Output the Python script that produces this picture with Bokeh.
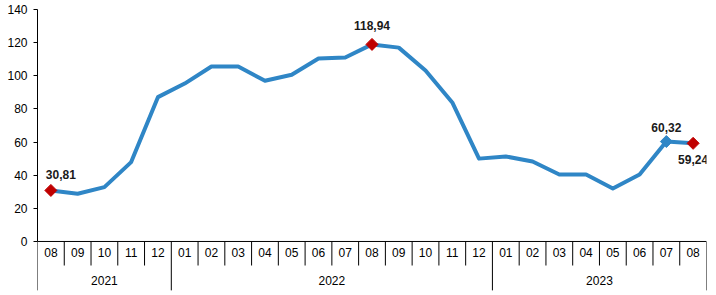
import math
from bokeh.plotting import figure
from bokeh.models import Range1d, FixedTicker, ColumnDataSource
from bokeh.core.properties import value
from bokeh.embed import file_html
from bokeh.resources import INLINE

months = ["08", "09", "10", "11", "12",
          "01", "02", "03", "04", "05", "06", "07", "08", "09", "10", "11", "12",
          "01", "02", "03", "04", "05", "06", "07", "08"]
years = ["2021", "2022", "2023"]
year_counts = [5, 12, 8]
values = [30.81, 28.8, 32.8, 47.9, 87.1,
          95.3, 105.6, 105.6, 97.0, 100.6, 110.4, 111.0, 118.94, 117.0, 103.2, 83.9, 50.0,
          51.3, 48.3, 40.4, 40.4, 32.0, 40.4, 60.32, 59.24]
red_idx = [0, 12, 24]
blue_idx = [23]
label_idx = [0, 12, 23, 24]
label_text = ["30,81", "118,94", "60,32", "59,24"]
label_dx = [10, 0, 0, 0]
label_dy = [16, 19, 14, -16]
y_ticks = [0, 20, 40, 60, 80, 100, 120, 140]

FONT = "Liberation Sans"
LINE = "#2F86C6"
RED = "#C00000"

p = figure(width=716, height=295, output_backend="svg", toolbar_location=None,
           x_axis_type=None, min_border_left=37, min_border_right=10,
           min_border_top=9, min_border_bottom=0)
p.x_range = Range1d(0, 25)
p.y_range = Range1d(-32.6, 140)
p.outline_line_color = None
p.grid.visible = False
p.background_fill_color = "white"

ax = p.yaxis[0]
ax.bounds = (0, 140)
ax.ticker = FixedTicker(ticks=y_ticks)
ax.minor_tick_line_color = None
ax.major_tick_in = 0
ax.major_tick_out = 4
ax.major_label_standoff = 6
ax.major_label_text_font = FONT
ax.major_label_text_font_size = "12px"
ax.major_label_text_color = "black"
ax.axis_line_color = "black"
ax.major_tick_line_color = "black"

n = len(months)
xs = [i + 0.5 for i in range(n)]

# table lines
p.segment(x0=[0], y0=[0], x1=[n], y1=[0], line_color="black", line_width=1)
year_bounds = [0]
for c in year_counts:
    year_bounds.append(year_bounds[-1] + c)
month_lines = [i for i in range(1, n) if i not in year_bounds]
p.segment(x0=month_lines, y0=[0] * len(month_lines), x1=month_lines,
          y1=[-14.5] * len(month_lines), line_color="black", line_width=1)
p.segment(x0=year_bounds, y0=[0] * len(year_bounds), x1=year_bounds,
          y1=[-29.5] * len(year_bounds), line_color="black", line_width=1)
p.text(x=xs, y=[-6.6] * n, text=months, text_align="center", text_baseline="middle",
       text_font=value(FONT), text_font_size="12px", text_color="black")
year_x = [(year_bounds[i] + year_bounds[i + 1]) / 2 for i in range(len(years))]
p.text(x=year_x, y=[-23.5] * len(years), text=years, text_align="center",
       text_baseline="middle", text_font=value(FONT), text_font_size="12px",
       text_color="black")

# series
p.line(xs, values, line_color=LINE, line_width=4, line_join="round")
p.scatter([xs[i] for i in blue_idx], [values[i] for i in blue_idx], marker="square",
          angle=math.pi / 4, size=8.5, fill_color=LINE, line_color=LINE)
p.scatter([xs[i] for i in red_idx], [values[i] for i in red_idx], marker="square",
          angle=math.pi / 4, size=8.5, fill_color=RED, line_color=RED)

src = ColumnDataSource(dict(x=[xs[i] for i in label_idx], y=[values[i] for i in label_idx],
                            t=label_text, dx=label_dx, dy=[-d for d in label_dy]))
p.text(x="x", y="y", text="t", x_offset="dx", y_offset="dy", source=src,
       text_align="center", text_baseline="middle", text_font=value(FONT),
       text_font_size="12px", text_font_style="bold", text_color="#1a1a1a")

open("out.html", "w").write(file_html(p, INLINE))
